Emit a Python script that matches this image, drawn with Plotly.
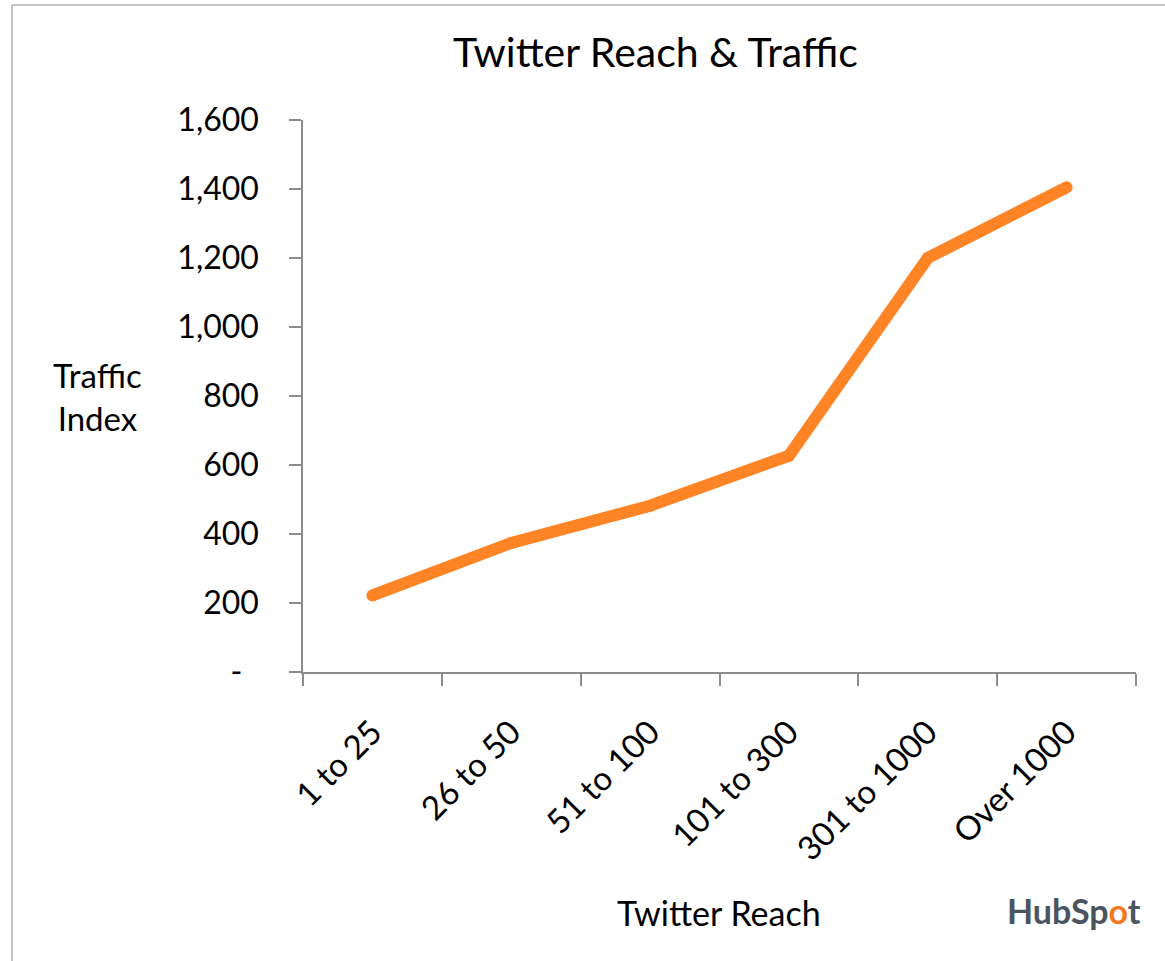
import plotly.graph_objects as go

categories = ["1 to 25", "26 to 50", "51 to 100", "101 to 300", "301 to 1000", "Over 1000"]
traffic_index = [222, 374, 482, 627, 1200, 1405]
y_tick_vals = [0, 200, 400, 600, 800, 1000, 1200, 1400, 1600]
y_tick_text = ["-\u00a0\u00a0", "200", "400", "600", "800", "1,000", "1,200", "1,400", "1,600"]

FONT = "Lato"
AX = "#8c8c8c"
ORANGE = "#ff8426"

L, R, T, B = 303, 29, 120, 289
W, H = 1165, 961
PW, PH = W - L - R, H - T - B

def px(x):
    return (x - L) / PW

def py(y):
    return (H - B - y) / PH

fig = go.Figure()
fig.add_trace(go.Scatter(
    x=categories, y=traffic_index, mode="lines+markers",
    line=dict(color=ORANGE, width=12, shape="linear"),
    marker=dict(color=ORANGE, size=12),
    hoverinfo="x+y", showlegend=False,
))

fig.update_layout(
    width=W, height=H,
    margin=dict(l=L, r=R, t=T, b=B, pad=0),
    paper_bgcolor="white", plot_bgcolor="white",
    font=dict(family=FONT, color="black"),
    xaxis=dict(
        type="category", range=[-0.5, 5.5],
        showline=True, linecolor=AX, linewidth=1.5,
        ticks="outside", tickson="boundaries", ticklen=12, tickcolor=AX, tickwidth=1.5,
        tickangle=-45, tickfont=dict(family=FONT, size=33, color="black"),
        ticklabelstandoff=26,
        showgrid=False, zeroline=False,
    ),
    yaxis=dict(
        range=[0, 1600],
        tickvals=y_tick_vals, ticktext=y_tick_text,
        showline=True, linecolor=AX, linewidth=1.5,
        ticks="outside", ticklen=12, tickcolor=AX, tickwidth=1.5,
        tickfont=dict(family=FONT, size=32, color="black"),
        ticklabelstandoff=24,
        showgrid=False, zeroline=False,
    ),
    annotations=[
        dict(text="Twitter Reach &amp; Traffic", x=px(655), y=py(52), xref="paper", yref="paper",
             showarrow=False, xanchor="center", yanchor="middle",
             font=dict(family=FONT, size=41, color="black")),
        dict(text="Traffic<br>Index", x=px(97), y=py(396), xref="paper", yref="paper",
             showarrow=False, xanchor="center", yanchor="middle", align="center",
             font=dict(family=FONT, size=33, color="black")),
        dict(text="Twitter Reach", x=px(719), y=py(912), xref="paper", yref="paper",
             showarrow=False, xanchor="center", yanchor="middle",
             font=dict(family=FONT, size=34, color="black")),
        dict(text="<b>HubSp<span style='color:#f57722'>o</span>t</b>", x=px(1074), y=py(910),
             xref="paper", yref="paper", showarrow=False, xanchor="center", yanchor="middle",
             font=dict(family=FONT, size=34, color="#4a5560")),
    ],
    shapes=[
        dict(type="line", xref="paper", yref="paper", x0=px(12), x1=px(1165), y0=py(5), y1=py(5),
             line=dict(color="#c4c4c4", width=2)),
        dict(type="line", xref="paper", yref="paper", x0=px(12), x1=px(12), y0=py(5), y1=py(961),
             line=dict(color="#c4c4c4", width=2)),
    ],
)

fig.write_html("out.html", config={"displayModeBar": False},
               post_script="document.body.style.margin='0';document.body.style.overflow='hidden';")
